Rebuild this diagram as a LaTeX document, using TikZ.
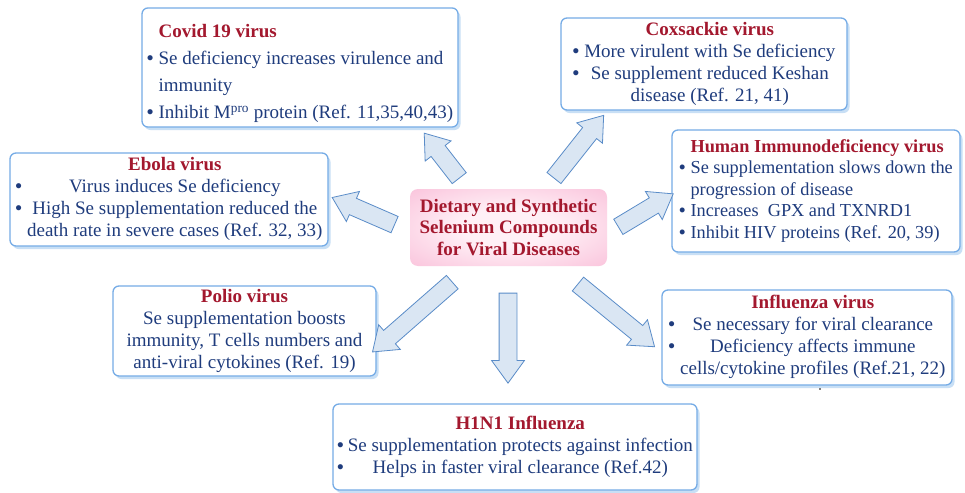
\documentclass[tikz,border=0pt]{standalone}
\usepackage{fontspec}
\setmainfont{Liberation Serif}
\usetikzlibrary{shapes.arrows,shadows}
\definecolor{ttlred}{RGB}{163,24,46}
\definecolor{txtblue}{RGB}{31,60,125}
\definecolor{boxline}{RGB}{118,172,230}
\definecolor{boxshadow}{RGB}{200,223,245}
\definecolor{arrfill}{RGB}{218,230,243}
\definecolor{arrline}{RGB}{90,140,200}
\definecolor{pinkout}{RGB}{246,158,196}
\definecolor{pinkmid}{RGB}{250,196,220}
\definecolor{pinkin}{RGB}{255,240,246}
\pgfdeclareradialshading{hubshade}{\pgfpoint{0bp}{0bp}}{color(0bp)=(pinkin); color(12bp)=(pinkin); color(36bp)=(pinkmid); color(50bp)=(pinkout); color(72bp)=(pinkout)}
\newcommand{\ttl}[1]{\textbf{\color{ttlred}#1}}
\newcommand{\bul}{\textbf{\textbullet}}
\tikzset{
 infobox/.style={draw=boxline, line width=1.3pt, rounded corners=6pt, fill=white, text=txtblue, inner sep=0pt,
   font=\fontsize{19}{22}\selectfont,
   drop shadow={shadow xshift=2.5pt, shadow yshift=-3pt, fill=boxshadow, opacity=1}},
 blockarrow/.style={single arrow, draw=arrline, fill=arrfill, line width=0.8pt, minimum width=0pt,
   single arrow head extend=7.5pt, single arrow tip angle=72, single arrow head indent=0pt,
   inner xsep=0pt, inner ysep=8.5pt},
 hub/.style={rounded corners=8pt, shading=hubshade, text=ttlred,
   font=\fontsize{19}{21.5}\selectfont\bfseries, align=center, inner sep=0pt}
}
\begin{document}
\begin{tikzpicture}[x=1pt,y=-1pt]
\useasboundingbox[fill=white] (0,0) rectangle (965,492);

% centre
\node[hub, minimum width=197pt, minimum height=77pt] (hub) at (508.5,227.5)
  {Dietary and Synthetic\\Selenium Compounds\\for Viral Diseases};

% boxes
\node[infobox, minimum width=316pt, minimum height=119pt, font=\fontsize{19}{27}\selectfont] (covid) at (300,67.5)
 {\begin{tabular}{@{}c@{\hspace{5pt}}l@{}}
  \rule{0pt}{30pt}& \ttl{Covid 19 virus}\\
  \bul & Se deficiency increases virulence and\\
  & immunity\\
  \bul & Inhibit M\textsuperscript{pro} protein (Ref. 11,35,40,43)
  \end{tabular}};

\node[infobox, minimum width=286pt, minimum height=92pt] (cox) at (704,64)
 {\begin{tabular}{@{}c@{\hspace{5pt}}c@{}}
  & \ttl{Coxsackie virus}\\
  \bul & More virulent with Se deficiency\\
  \bul & Se supplement reduced Keshan\\
  & disease (Ref. 21, 41)
  \end{tabular}};

\node[infobox, minimum width=288pt, minimum height=122pt, font=\fontsize{18.3}{21.5}\selectfont] (hiv) at (816,191)
 {\begin{tabular}{@{}c@{\hspace{5pt}}l@{}}
  & \ttl{Human Immunodeficiency virus}\\
  \bul & Se supplementation slows down the\\
  & progression of disease\\
  \bul & Increases\ \ GPX and TXNRD1\\
  \bul & Inhibit HIV proteins (Ref. 20, 39)
  \end{tabular}};

\node[infobox, minimum width=318pt, minimum height=93pt] (ebola) at (169,199.5)
 {\begin{tabular}{@{}c@{\hspace{5pt}}c@{}}
  & \ttl{Ebola virus}\\
  \bul & Virus induces Se deficiency\\
  \bul & High Se supplementation reduced the\\
  & death rate in severe cases (Ref. 32, 33)
  \end{tabular}};

\node[infobox, minimum width=263pt, minimum height=90pt] (polio) at (244.5,331)
 {\begin{tabular}{@{}c@{}}
  \ttl{Polio virus}\\
  Se supplementation boosts\\
  immunity, T cells numbers and\\
  anti-viral cytokines (Ref. 19)
  \end{tabular}};

\node[infobox, minimum width=290pt, minimum height=95pt] (flu) at (807,337.5)
 {\begin{tabular}{@{}c@{\hspace{5pt}}c@{}}
  & \ttl{Influenza virus}\\
  \bul & Se necessary for viral clearance\\
  \bul & Deficiency affects immune\\
  & cells/cytokine profiles (Ref.21, 22)
  \end{tabular}};

\node[infobox, minimum width=364pt, minimum height=86pt] (hone) at (515,447)
 {\begin{tabular}{@{}c@{\hspace{4pt}}c@{}}
  & \ttl{H1N1 Influenza}\\
  \bul & Se supplementation protects against infection\\
  \bul & Helps in faster viral clearance (Ref.42)
  \end{tabular}};

% block arrows
\node[blockarrow, minimum height=57pt, rotate=127.9] (arrCovid) at (445.5,160.5) {};
\node[blockarrow, minimum height=80pt, rotate=51.6] (arrCox) at (575,151.5) {};
\node[blockarrow, minimum height=68pt, rotate=156.5] (arrEbola) at (369,213.5) {};
\node[blockarrow, minimum height=64pt, rotate=31] (arrHiv) at (640.5,213.5) {};
\node[blockarrow, minimum height=106pt, rotate=221.2] (arrPolio) at (417,313) {};
\node[blockarrow, minimum height=90pt, rotate=-90] (arrHone) at (508,332) {};
\node[blockarrow, minimum height=99pt, rotate=-39.3] (arrFlu) at (611.5,311.5) {};

\fill[black] (820,389) circle (0.9);
\end{tikzpicture}
\end{document}
